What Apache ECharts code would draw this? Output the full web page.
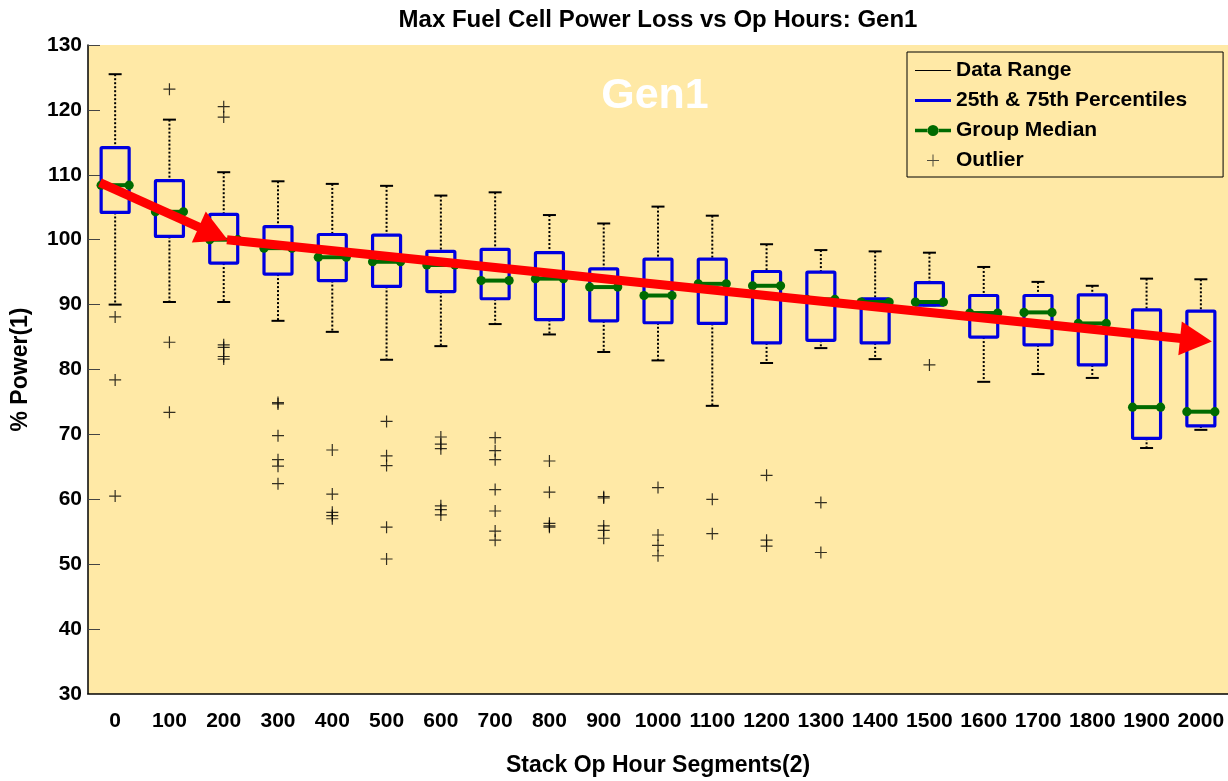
<!DOCTYPE html>
<html>
<head>
<meta charset="utf-8">
<script src="https://cdn.jsdelivr.net/npm/echarts@6/dist/echarts.min.js"></script>
<style>
  html, body { margin: 0; padding: 0; background: #fff; }
  #chart { width: 1228px; height: 781px; }
</style>
</head>
<body>
<div id="chart"></div>
<script>
const categories = ['0', '100', '200', '300', '400', '500', '600', '700', '800', '900', '1000',
  '1100', '1200', '1300', '1400', '1500', '1600', '1700', '1800', '1900', '2000'];

const whiskerHigh = [125.5, 118.5, 110.4, 109.0, 108.6, 108.3, 106.8, 107.3, 103.8, 102.5, 105.1,
  103.7, 99.3, 98.4, 98.2, 98.0, 95.8, 93.5, 92.9, 94.0, 93.9];
const q3 = [114.2, 109.1, 103.9, 102.0, 100.8, 100.7, 98.2, 98.5, 98.0, 95.5, 97.0,
  97.0, 95.1, 95.0, 90.9, 93.4, 91.4, 91.4, 91.5, 89.2, 89.0];
const medians = [108.4, 104.3, 100.0, 98.7, 97.3, 96.6, 96.1, 93.7, 94.0, 92.7, 91.4,
  93.2, 92.9, 90.8, 90.4, 90.4, 88.7, 88.8, 87.1, 74.2, 73.5];
const q1 = [104.2, 100.5, 96.4, 94.7, 93.7, 92.8, 92.0, 90.9, 87.7, 87.5, 87.2,
  87.1, 84.1, 84.5, 84.1, 89.9, 85.0, 83.8, 80.7, 69.4, 71.3];
const whiskerLow = [90.0, 90.4, 90.4, 87.5, 85.8, 81.5, 83.6, 87.0, 85.4, 82.7, 81.4,
  74.4, 81.0, 83.3, 81.6, 89.9, 78.1, 79.3, 78.7, 67.9, 70.7];

// outliers per category
const outliers = [
  [88.1, 78.4, 60.5],
  [123.2, 84.2, 73.4],
  [120.5, 118.9, 83.8, 83.4, 82.0, 81.6],
  [74.9, 74.7, 69.8, 66.1, 65.1, 62.4],
  [67.6, 60.8, 58.0, 57.5, 57.0],
  [72.0, 66.7, 65.2, 55.7, 50.8],
  [69.6, 68.5, 67.8, 59.0, 58.4, 57.6],
  [69.5, 67.5, 66.1, 61.5, 58.2, 55.1, 53.7],
  [65.9, 61.1, 56.3, 55.9, 55.7],
  [60.4, 60.2, 55.9, 55.2, 54.0],
  [61.8, 54.5, 52.9, 51.3],
  [60.0, 54.7],
  [63.7, 53.7, 52.8],
  [59.5, 51.8],
  [],
  [80.7],
  [], [], [], [], []
];

// red trend arrow, [category position, % power] at arrowhead centres
const arrowStart = [-0.28, 108.8];
const arrowBend = [1.81, 100.94];
const arrowBendTip = [2.06, 100.0];
const arrowEnd = [19.91, 84.55];

const FONT = 'Liberation Sans';
const BG = '#FFE9A6';
const BLUE = '#0000E0';
const GREEN = '#006B00';

const boxData = categories.map((c, i) => [i, whiskerLow[i], q1[i], medians[i], q3[i], whiskerHigh[i]]);
const outlierData = [];
outliers.forEach((list, i) => list.forEach(v => outlierData.push([i, v])));

function renderWhisker(params, api) {
  const i = api.value(0);
  const low = api.coord([i, api.value(1)]);
  const lo = api.coord([i, api.value(2)]);
  const hi = api.coord([i, api.value(4)]);
  const high = api.coord([i, api.value(5)]);
  const x = low[0];
  const cap = 6.5;
  const dotted = { stroke: '#000', lineWidth: 2, lineDash: [2, 2] };
  const solid = { stroke: '#000', lineWidth: 2 };
  return {
    type: 'group',
    children: [
      { type: 'line', shape: { x1: x, y1: high[1], x2: x, y2: hi[1] }, style: dotted },
      { type: 'line', shape: { x1: x, y1: lo[1], x2: x, y2: low[1] }, style: dotted },
      { type: 'line', shape: { x1: x - cap, y1: high[1], x2: x + cap, y2: high[1] }, style: solid },
      { type: 'line', shape: { x1: x - cap, y1: low[1], x2: x + cap, y2: low[1] }, style: solid }
    ]
  };
}

function renderBox(params, api) {
  const i = api.value(0);
  const lo = api.coord([i, api.value(2)]);
  const hi = api.coord([i, api.value(4)]);
  const half = 14;
  return {
    type: 'rect',
    shape: { x: lo[0] - half, y: hi[1], width: half * 2, height: lo[1] - hi[1], r: 1 },
    style: { fill: 'none', stroke: BLUE, lineWidth: 3.2 }
  };
}

function renderMedian(params, api) {
  const i = api.value(0);
  const m = api.coord([i, api.value(3)]);
  const half = 14;
  return {
    type: 'group',
    children: [
      { type: 'line', shape: { x1: m[0] - half, y1: m[1], x2: m[0] + half, y2: m[1] }, style: { stroke: GREEN, lineWidth: 4 } },
      { type: 'circle', shape: { cx: m[0] - half, cy: m[1], r: 4.6 }, style: { fill: GREEN } },
      { type: 'circle', shape: { cx: m[0] + half, cy: m[1], r: 4.6 }, style: { fill: GREEN } }
    ]
  };
}

const chart = echarts.init(document.getElementById('chart'), null, { renderer: 'canvas' });

const option = {
  animation: false,
  backgroundColor: '#fff',
  textStyle: { fontFamily: FONT },
  title: [{
    text: 'Max Fuel Cell Power Loss vs Op Hours: Gen1',
    left: 658,
    top: 8,
    padding: 0,
    textAlign: 'center',
    textStyle: { fontFamily: FONT, fontSize: 24, fontWeight: 'bold', color: '#000' }
  }, {
    text: 'Gen1',
    left: 655,
    top: 75,
    padding: 0,
    textAlign: 'center',
    textStyle: { fontFamily: FONT, fontSize: 43, fontWeight: 'bold', color: '#fff' }
  }],
  legend: {
    orient: 'vertical',
    left: 907,
    top: 52,
    padding: [8, 36, 6, 8],
    itemGap: 9,
    itemWidth: 36,
    itemHeight: 14,
    itemTextGap: 12,
    backgroundColor: BG,
    borderColor: '#000',
    borderWidth: 1,
    borderRadius: 0,
    textStyle: { fontFamily: FONT, fontSize: 21, fontWeight: 'bold', color: '#000', lineHeight: 20 },
    data: [
      { name: 'Data Range', icon: 'path://M0,0M36,14M0,6.4H36V7.6H0Z', itemStyle: { color: '#000' } },
      { name: '25th & 75th Percentiles', icon: 'path://M0,0M36,14M0,5.5H36V8.5H0Z', itemStyle: { color: BLUE } },
      { name: 'Group Median', icon: 'path://M0,0M36,14M0,5.3H13V8.7H0Z M23,5.3H36V8.7H23Z M12.5,7A5.5,5.5 0 1,0 23.5,7A5.5,5.5 0 1,0 12.5,7Z', itemStyle: { color: GREEN } },
      { name: 'Outlier', icon: 'path://M0,0M36,14M12,6.5H24V7.5H12Z M17.5,1H18.5V13H17.5Z', itemStyle: { color: '#222' } }
    ],
    selectedMode: false
  },
  grid: {
    left: 88,
    right: 0,
    top: 45,
    bottom: 87,
    outerBoundsMode: 'none',
    containLabel: false,
    show: true,
    backgroundColor: BG,
    borderWidth: 0
  },
  xAxis: [{
    type: 'category',
    data: categories,
    boundaryGap: true,
    name: 'Stack Op Hour Segments(2)',
    nameLocation: 'middle',
    nameGap: 60,
    nameTextStyle: { fontFamily: FONT, fontSize: 23, fontWeight: 'bold', color: '#000' },
    axisLine: { onZero: false, lineStyle: { color: '#000', width: 1.5 } },
    axisTick: { inside: true, alignWithLabel: true, length: 11, lineStyle: { color: '#444', width: 1 } },
    axisLabel: { fontFamily: FONT, fontSize: 21, fontWeight: 'bold', color: '#000', margin: 17, interval: 0 },
    splitLine: { show: false }
  }, {
    type: 'value',
    min: -0.5,
    max: 20.5,
    show: false
  }],
  yAxis: {
    type: 'value',
    min: 30,
    max: 130,
    interval: 10,
    name: '% Power(1)',
    nameLocation: 'middle',
    nameGap: 56,
    nameTextStyle: { fontFamily: FONT, fontSize: 23, fontWeight: 'bold', color: '#000' },
    axisLine: { show: true, onZero: false, lineStyle: { color: '#000', width: 1.5 } },
    axisTick: { show: true, inside: true, length: 12, lineStyle: { color: '#444', width: 1 } },
    axisLabel: { fontFamily: FONT, fontSize: 21, fontWeight: 'bold', color: '#000', margin: 6 },
    splitLine: { show: false }
  },
  series: [{
    name: 'Data Range',
    type: 'custom',
    renderItem: renderWhisker,
    data: boxData,
    itemStyle: { color: '#000' },
    z: 2
  }, {
    name: '25th & 75th Percentiles',
    type: 'custom',
    renderItem: renderBox,
    data: boxData,
    itemStyle: { color: BLUE },
    z: 3
  }, {
    name: 'Group Median',
    type: 'custom',
    renderItem: renderMedian,
    data: boxData,
    itemStyle: { color: GREEN },
    z: 4
  }, {
    name: 'Outlier',
    type: 'scatter',
    data: outlierData,
    symbol: 'path://M0,5.4H12V6.6H0Z M5.4,0H6.6V12H5.4Z',
    symbolSize: [12, 12],
    itemStyle: { color: '#000' },
    z: 2
  }, {
    name: 'trend',
    type: 'line',
    xAxisIndex: 1,
    yAxisIndex: 0,
    data: [],
    z: 10,
    markLine: {
      silent: true,
      symbol: ['none', 'triangle'],
      symbolSize: [34, 32],
      label: { show: false },
      lineStyle: { color: '#FF0000', width: 9, type: 'solid', opacity: 1 },
      data: [
        [{ coord: arrowStart }, { coord: arrowBend }],
        [{ coord: arrowBendTip }, { coord: arrowEnd }]
      ]
    }
  }]
};

chart.setOption(option);
</script>
</body>
</html>
